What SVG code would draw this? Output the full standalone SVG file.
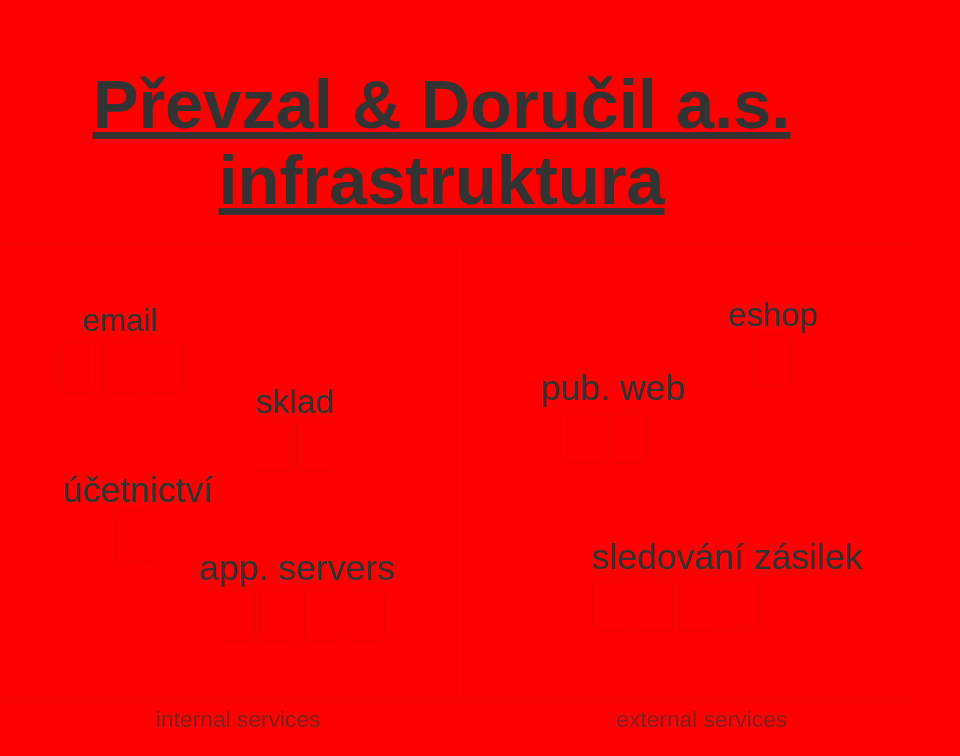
<svg xmlns="http://www.w3.org/2000/svg" width="960" height="756" viewBox="0 0 960 756">
<style>
.t{font-family:"Liberation Sans",Arial,sans-serif;fill:#333;text-anchor:middle}
.title{font-size:68.6px;font-weight:bold;text-decoration:underline}
.lbl{font-size:35.6px}
.foot{font-size:22.8px;fill:#333;fill-opacity:0.6}
.box{fill:none;stroke:#333;stroke-opacity:0.1;stroke-width:1}
.sep{stroke:#333;stroke-opacity:0.1;stroke-width:1;fill:none}
</style>
<rect x="0" y="0" width="960" height="756" fill="#ff0000"/>
<g id="title">
<text class="t title" x="441.5" y="128">Převzal &amp; Doručil a.s.</text>
<text class="t title" x="441.5" y="204">infrastruktura</text>
</g>
<g id="connectors">
<line class="sep" x1="0" y1="244.5" x2="915" y2="244.5"/>
<line class="sep" x1="463.5" y1="245" x2="463.5" y2="698"/>
<line class="sep" x1="0" y1="698.5" x2="915" y2="698.5"/>
</g>
<g id="email">
<text class="t lbl" x="119.5" y="331" style="font-size:31.3px">email</text>
<rect class="box" x="58.5" y="342.5" width="37" height="50" rx="5"/>
<rect class="box" x="102.5" y="342.5" width="37" height="50" rx="5"/>
<rect class="box" x="145.5" y="342.5" width="37" height="50" rx="5"/>
</g>
<g id="sklad">
<text class="t lbl" x="294.5" y="413" style="font-size:33.7px">sklad</text>
<rect class="box" x="253.5" y="421.5" width="37" height="50" rx="5"/>
<rect class="box" x="296.5" y="421.5" width="37" height="50" rx="5"/>
</g>
<g id="ucetnictvi">
<text class="t lbl" x="137.5" y="502">účetnictví</text>
<rect class="box" x="116.5" y="511.5" width="37" height="50" rx="5"/>
</g>
<g id="app-servers">
<text class="t lbl" x="296.5" y="580">app. servers</text>
<rect class="box" x="217.5" y="590.5" width="37" height="50" rx="5"/>
<rect class="box" x="260.5" y="590.5" width="37" height="50" rx="5"/>
<rect class="box" x="304.5" y="590.5" width="37" height="50" rx="5"/>
<rect class="box" x="347.5" y="590.5" width="37" height="50" rx="5"/>
</g>
<g id="eshop">
<text class="t lbl" x="772.5" y="326" style="font-size:33px">eshop</text>
<rect class="box" x="754.5" y="335.5" width="36" height="50" rx="5"/>
</g>
<g id="pub-web">
<text class="t lbl" x="612.5" y="400">pub. web</text>
<rect class="box" x="567.5" y="413.5" width="36" height="50" rx="5"/>
<rect class="box" x="610.5" y="413.5" width="36" height="50" rx="5"/>
</g>
<g id="sledovani">
<text class="t lbl" x="726.5" y="569">sledování zásilek</text>
<rect class="box" x="592.5" y="581.5" width="37" height="50" rx="5"/>
<rect class="box" x="635.5" y="581.5" width="37" height="50" rx="5"/>
<rect class="box" x="678.5" y="581.5" width="37" height="50" rx="5"/>
<rect class="box" x="721.5" y="579.5" width="37" height="50" rx="5"/>
</g>
<g id="footer">
<text class="t foot" x="237.5" y="727">internal services</text>
<text class="t foot" x="701" y="727">external services</text>
</g>
</svg>
